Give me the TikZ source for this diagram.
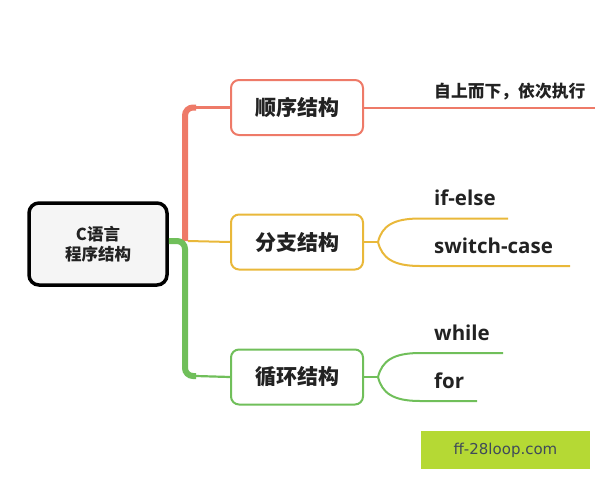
\documentclass[tikz,border=0pt]{standalone}
\usepackage{fontspec}
\newfontfamily\cjk{Noto Sans CJK SC}
\newfontfamily\lat{Open Sans}
\newfontfamily\wm{DejaVu Sans}
\definecolor{redc}{HTML}{EE7A68}
\definecolor{yelc}{HTML}{E9B83A}
\definecolor{grnc}{HTML}{70BF5A}
\definecolor{txtc}{HTML}{222222}
\definecolor{wmbg}{HTML}{B5D934}
\definecolor{wmtx}{HTML}{3F4A5A}
\tikzset{
  box/.style={draw, line width=2pt, rounded corners=8pt, fill=white,
    minimum width=132pt, minimum height=55pt, inner sep=0pt,
    font=\cjk\bfseries\fontsize{21}{24}\selectfont, text=txtc},
  leaf/.style={anchor=west, inner sep=0pt, text=txtc,
    font=\lat\bfseries\fontsize{20.5}{24}\selectfont},
  cleaf/.style={anchor=west, inner sep=0pt, text=txtc,
    font=\cjk\bfseries\fontsize{16.8}{19}\selectfont},
}
\begin{document}
\begin{tikzpicture}[x=1pt,y=-1pt]
\useasboundingbox (0,0) rectangle (600,480);
% root
\node[draw=black, line width=3.5pt, rounded corners=10pt, fill=black!4,
  minimum width=138pt, minimum height=82pt, inner sep=0pt, align=center,
  font=\cjk\bfseries\fontsize{16.5}{20.5}\selectfont, text=txtc]
  (root) at (98,244) {C语言\\程序结构};
% branch boxes
\node[box, draw=redc] (b1) at (297,107.5) {顺序结构};
\node[box, draw=yelc] (b2) at (297,242) {分支结构};
\node[box, draw=grnc] (b3) at (297,377) {循环结构};
% trunk coordinates
\coordinate (j) at (185,241);
\coordinate (jr) at (196,107.5);
\coordinate (jg) at (196,376);
% red trunk
\draw[redc, line width=6pt, rounded corners=8pt] (j) -- (j |- b1.west) -- (jr);
\draw[redc, line width=2.5pt] (jr) -- (b1.west);
% green trunk
\draw[grnc, line width=6pt, rounded corners=8pt] (root.east |- j) -- (j) -- (j |- jg) -- (jg);
\draw[grnc, line width=2.2pt] (jg) -- (b3.west);
% yellow
\draw[yelc, line width=2pt] ([xshift=3pt]j) -- (b2.west);
% sequence line
\coordinate (e1) at (595,107.5);
\draw[redc, line width=2pt] (b1.east) -- (e1);
\node[cleaf] (t1) at (434,92) {自上而下，依次执行};
% branch fork
\coordinate (f2) at (378,242);
\coordinate (y1) at (508,218.5);
\coordinate (y2) at (570,266);
\draw[yelc, line width=2pt] (b2.east) -- (f2);
\draw[yelc, line width=2pt] (f2) .. controls (382,226) and (393,218.5) .. (420,218.5) -- (y1);
\draw[yelc, line width=2pt] (f2) .. controls (382,258) and (393,266) .. (420,266) -- (y2);
\node[leaf] (l1) at (434,198) {if-else};
\node[leaf] (l2) at (434,245.5) {switch-case};
% loop fork
\coordinate (f3) at (378,377);
\coordinate (g1) at (503,353);
\coordinate (g2) at (477,401);
\draw[grnc, line width=2pt] (b3.east) -- (f3);
\draw[grnc, line width=2pt] (f3) .. controls (382,361) and (393,353) .. (420,353) -- (g1);
\draw[grnc, line width=2pt] (f3) .. controls (382,393) and (393,401) .. (420,401) -- (g2);
\node[leaf] (l3) at (434,332.5) {while};
\node[leaf] (l4) at (434,380.5) {for};
% watermark
\node[fill=wmbg, minimum width=169pt, minimum height=38pt, inner sep=0pt,
  text=wmtx, font=\wm\fontsize{15}{18}\selectfont] (wm) at (505.5,450) {ff-28loop.com};
\end{tikzpicture}
\end{document}
